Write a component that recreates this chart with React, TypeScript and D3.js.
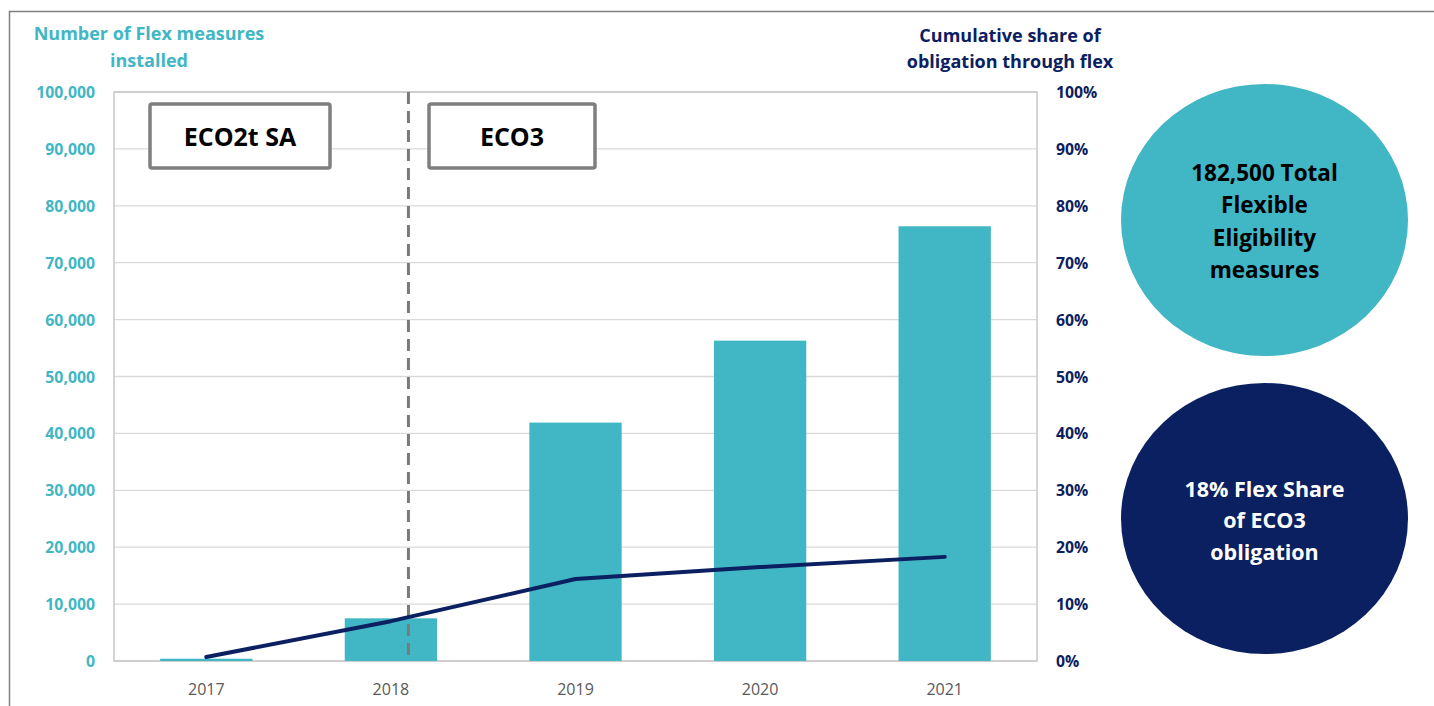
import React from "react";
import * as d3 from "d3";

const years = ["2017", "2018", "2019", "2020", "2021"];
const measures = [400, 7500, 41900, 56300, 76400];
const cumulativeShare = [0.007, 0.07, 0.144, 0.165, 0.183];
const leftTicks = [0, 10000, 20000, 30000, 40000, 50000, 60000, 70000, 80000, 90000, 100000];
const rightTicks = [0, 0.1, 0.2, 0.3, 0.4, 0.5, 0.6, 0.7, 0.8, 0.9, 1.0];
const leftTitle = ["Number of Flex measures", "installed"];
const rightTitle = ["Cumulative share of", "obligation through flex"];
const circle1Text = ["182,500 Total", "Flexible", "Eligibility", "measures"];
const circle2Text = ["18% Flex Share", "of ECO3", "obligation"];
const phases = ["ECO2t SA", "ECO3"];

const W = 1434;
const H = 706;
const FONT = "'Open Sans', Lato, sans-serif";
const TEAL = "#41b6c4";
const NAVY = "#0b2060";

export default function App() {
  const left = 114, right = 1037, top = 92, bottom = 661;
  const x = d3.scaleBand().domain(years).range([left, right]).paddingInner(0.5).paddingOuter(0.25);
  const yL = d3.scaleLinear().domain([0, 100000]).range([bottom, top]);
  const yR = d3.scaleLinear().domain([0, 1]).range([bottom, top]);
  const fmt = d3.format(",");
  const pct = d3.format(".0%");
  const line = d3
    .line<number>()
    .x((_, i) => (x(years[i]) as number) + x.bandwidth() / 2)
    .y((d) => yR(d));
  const dashX = (x("2018") as number) + x.bandwidth() * 0.69;

  return (
    <svg width={W} height={H} style={{ position: "absolute", left: 0, top: 0, background: "#fff" }} fontFamily={FONT}>
      {/* outer frame */}
      <path d={`M9.5,${H} V11.5 H${W}`} fill="none" stroke="#7f7f7f" strokeWidth={1.5} />

      {/* gridlines */}
      {leftTicks.map((t) => (
        <line key={t} x1={left} x2={right} y1={yL(t)} y2={yL(t)} stroke="#d9d9d9" strokeWidth={1.3} />
      ))}
      <rect x={left} y={top} width={right - left} height={bottom - top} fill="none" stroke="#c8c8c8" strokeWidth={1.5} />

      {/* bars */}
      {measures.map((v, i) => (
        <rect key={years[i]} x={x(years[i])} y={yL(v)} width={x.bandwidth()} height={bottom - yL(v)} fill={TEAL} />
      ))}

      {/* dashed separator */}
      <line x1={dashX} x2={dashX} y1={top} y2={bottom} stroke="#7a7a7a" strokeWidth={3} strokeDasharray="12,7" />

      {/* line */}
      <path d={line(cumulativeShare) || ""} fill="none" stroke={NAVY} strokeWidth={4} strokeLinecap="round" strokeLinejoin="round" />

      {/* phase boxes */}
      {[
        { label: phases[0], x0: 150, x1: 330 },
        { label: phases[1], x0: 429, x1: 595 },
      ].map((b) => (
        <g key={b.label}>
          <rect x={b.x0} y={104} width={b.x1 - b.x0} height={64} fill="#fff" stroke="#7f7f7f" strokeWidth={3.5} rx={2} />
          <text x={(b.x0 + b.x1) / 2} y={136} textAnchor="middle" dominantBaseline="central" fontWeight={700} fontSize={25} fill="#000">
            {b.label}
          </text>
        </g>
      ))}

      {/* left axis */}
      {leftTicks.map((t) => (
        <text key={t} x={95} y={yL(t)} textAnchor="end" dominantBaseline="central" fontWeight={700} fontSize={15.8} fill={TEAL}>
          {fmt(t)}
        </text>
      ))}
      {leftTitle.map((s, i) => (
        <text key={s} x={149} y={33 + i * 27} textAnchor="middle" dominantBaseline="central" fontWeight={700} fontSize={18} fill={TEAL}>
          {s}
        </text>
      ))}

      {/* right axis */}
      {rightTicks.map((t) => (
        <text key={t} x={1056} y={yR(t)} textAnchor="start" dominantBaseline="central" fontWeight={700} fontSize={15.8} fill={NAVY}>
          {pct(t)}
        </text>
      ))}
      {rightTitle.map((s, i) => (
        <text key={s} x={1010} y={35 + i * 26} textAnchor="middle" dominantBaseline="central" fontWeight={700} fontSize={18} fill={NAVY}>
          {s}
        </text>
      ))}

      {/* x axis */}
      {years.map((yr) => (
        <text key={yr} x={(x(yr) as number) + x.bandwidth() / 2} y={689} textAnchor="middle" dominantBaseline="central" fontSize={16} fill="#595959">
          {yr}
        </text>
      ))}

      {/* circles */}
      <ellipse cx={1264.5} cy={220} rx={143.5} ry={136} fill={TEAL} />
      {circle1Text.map((s, i) => (
        <text key={s} x={1264.5} y={172 + i * 32.5} textAnchor="middle" dominantBaseline="central" fontWeight={700} fontSize={22.5} fill="#000">
          {s}
        </text>
      ))}
      <ellipse cx={1264.5} cy={518.5} rx={143.5} ry={135.5} fill={NAVY} />
      {circle2Text.map((s, i) => (
        <text key={s} x={1264.5} y={488 + i * 31.5} textAnchor="middle" dominantBaseline="central" fontWeight={700} fontSize={21.5} fill="#fff">
          {s}
        </text>
      ))}
    </svg>
  );
}
